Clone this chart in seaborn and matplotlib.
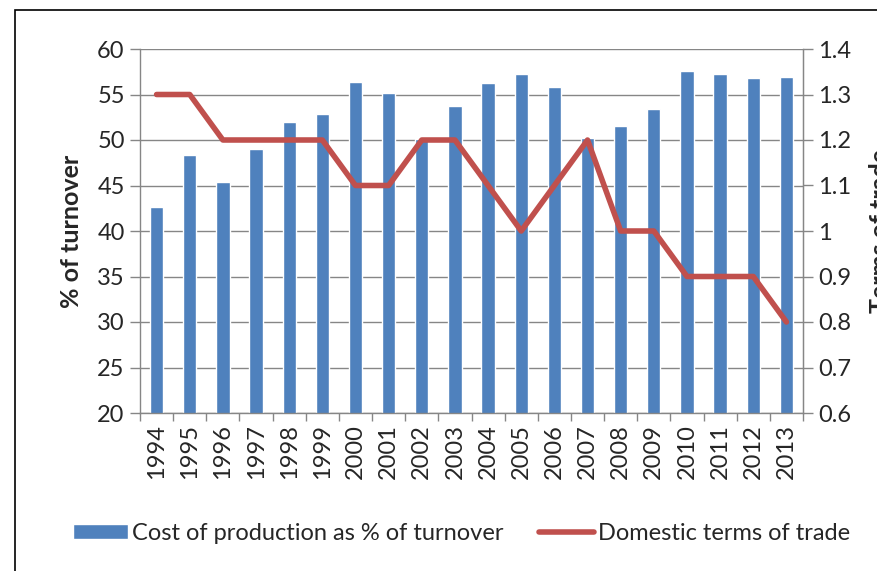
import numpy as np
import seaborn as sns
import matplotlib.pyplot as plt
from matplotlib.patches import Patch, Rectangle
from matplotlib.lines import Line2D
from matplotlib.ticker import FixedLocator

years = [str(y) for y in range(1994, 2014)]
cost_pct = [42.6, 48.3, 45.4, 49.0, 52.0, 52.9, 56.4, 55.2, 50.1, 53.7,
            56.3, 57.3, 55.8, 50.2, 51.5, 53.4, 57.6, 57.3, 56.8, 56.9]
terms_of_trade = [1.3, 1.3, 1.2, 1.2, 1.2, 1.2, 1.1, 1.1, 1.2, 1.2,
                  1.1, 1.0, 1.1, 1.2, 1.0, 1.0, 0.9, 0.9, 0.9, 0.8]
left_ticks = [20, 25, 30, 35, 40, 45, 50, 55, 60]
right_ticks = [0.6, 0.7, 0.8, 0.9, 1.0, 1.1, 1.2, 1.3, 1.4]
right_tick_labels = ['0.6', '0.7', '0.8', '0.9', '1', '1.1', '1.2', '1.3', '1.4']

BLUE = '#4F81BD'
RED = '#C0504D'
GRID = '#868686'
FS = 17

sns.set_style('white')
plt.rcParams['font.family'] = ['Lato', 'DejaVu Sans']

fig = plt.figure(figsize=(8.78, 5.71), dpi=100)
ax = fig.add_axes([140 / 878, 1 - 413 / 571, 663 / 878, 364 / 571])

sns.barplot(x=years, y=cost_pct, color=BLUE, width=0.4, saturation=1, ax=ax, zorder=2)
ax.set_ylim(20, 60)
ax.set_xlim(-0.5, len(years) - 0.5)
ax.set_yticks(left_ticks)
ax.set_yticklabels([str(t) for t in left_ticks], fontsize=FS)
ax.grid(axis='y', color=GRID, lw=1, zorder=0)
ax.set_axisbelow(True)
ax.tick_params(axis='y', length=7, color=GRID, width=1, pad=4, left=True)
ax.tick_params(axis='x', which='major', length=0, labelsize=FS, rotation=90, pad=8)
ax.xaxis.set_minor_locator(FixedLocator(np.arange(-0.5, len(years), 1.0)))
ax.tick_params(axis='x', which='minor', length=6, color=GRID, width=1, bottom=True)
ax.set_ylabel('% of turnover', fontsize=18, fontweight='bold', labelpad=10)
ax.set_xlabel('')
ax.spines['top'].set_visible(False)
for s in ['left', 'bottom', 'right']:
    ax.spines[s].set_color(GRID)
    ax.spines[s].set_linewidth(1)

ax2 = ax.twinx()
sns.lineplot(x=np.arange(len(years)), y=terms_of_trade, color=RED, lw=4, ax=ax2)
ax2.set_ylim(0.6, 1.4)
ax2.set_xlim(-0.5, len(years) - 0.5)
ax2.set_yticks(right_ticks)
ax2.set_yticklabels(right_tick_labels, fontsize=FS)
ax2.tick_params(axis='y', length=7, color=GRID, width=1, pad=4, right=True)
ax2.set_ylabel('Terms of trade', fontsize=18, fontweight='bold')
ax2.yaxis.set_label_coords(1.099, 0.5)
for s in ['top', 'left', 'bottom']:
    ax2.spines[s].set_visible(False)
ax2.spines['right'].set_color(GRID)
ax2.grid(False)

handles = [Patch(facecolor=BLUE), Line2D([0], [0], color=RED, lw=4)]
labels = ['Cost of production as % of turnover', 'Domestic terms of trade']
fig.legend(handles, labels, loc='center', bbox_to_anchor=(462 / 878, 1 - 533 / 571),
           ncol=2, frameon=False, fontsize=FS, handlelength=2.3, handleheight=0.6,
           handletextpad=0.2, columnspacing=1.5)

fig.add_artist(Rectangle((15 / 878, -0.05), 1.2, 1.05 - 10 / 571, transform=fig.transFigure,
                         fill=False, edgecolor='black', lw=1.2))

fig.savefig('out.png', dpi=100)
